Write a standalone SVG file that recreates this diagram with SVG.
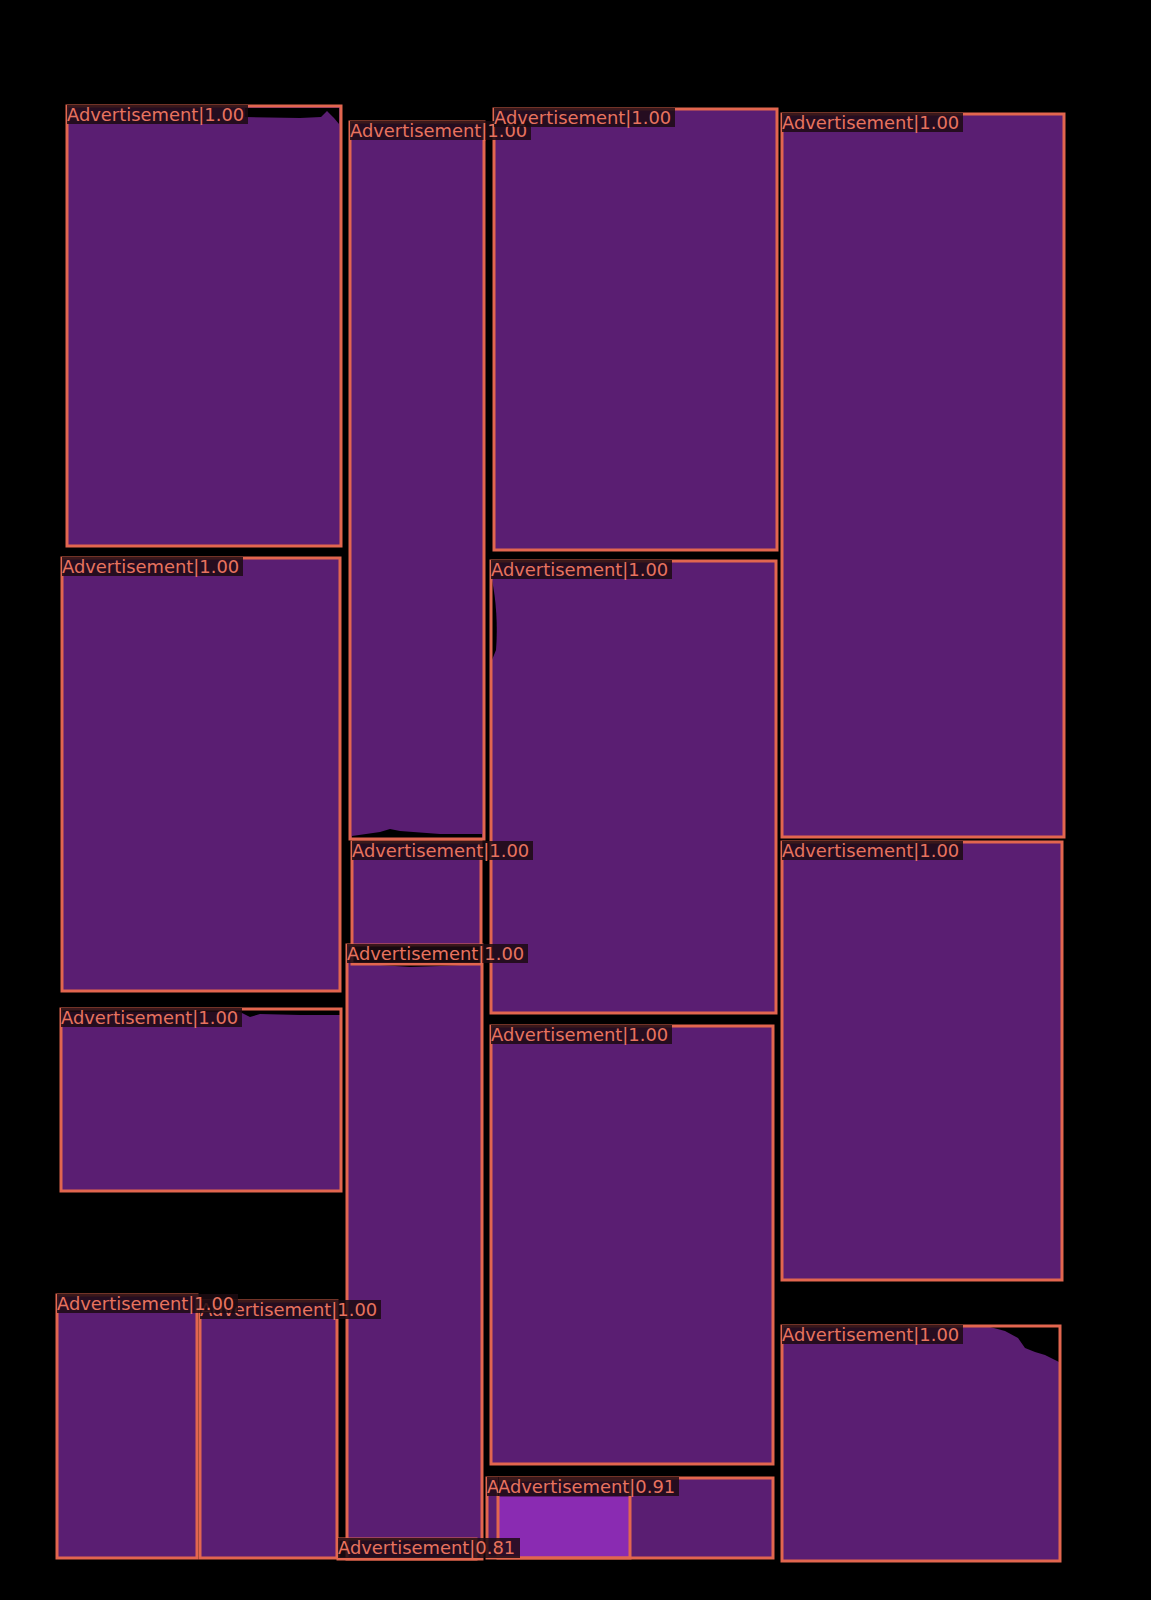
<svg xmlns="http://www.w3.org/2000/svg" width="1151" height="1600" viewBox="0 0 1151 1600">
<style>
.m{fill:#5a1e72}
.m2{fill:#8a2bb2}
.b{fill:none;stroke:#e2664f;stroke-width:3}
.lb{fill:#1c0a12;fill-opacity:0.85}
.t{font-family:"DejaVu Sans",sans-serif;font-size:17.9px;fill:#e8735f}
.k{fill:#000}
</style>
<rect width="1151" height="1600" fill="#000"/>
<g id="masks">
<rect class="m" x="68" y="107" width="272" height="438"/>
<rect class="m" x="351" y="123" width="132" height="715"/>
<rect class="m" x="495" y="110" width="281" height="439"/>
<rect class="m" x="783" y="115" width="280" height="721"/>
<rect class="m" x="63" y="559" width="276" height="431"/>
<rect class="m" x="353" y="843" width="127" height="120"/>
<rect class="m" x="348" y="946" width="133" height="612"/>
<rect class="m" x="492" y="562" width="283" height="450"/>
<rect class="m" x="492" y="1027" width="280" height="436"/>
<rect class="m" x="488" y="1479" width="284" height="78"/>
<rect class="m2" x="499" y="1497" width="131" height="60"/>
<rect class="m" x="62" y="1010" width="278" height="180"/>
<rect class="m" x="58" y="1296" width="138" height="261"/>
<rect class="m" x="201" y="1302" width="135" height="256"/>
<rect class="m" x="783" y="843" width="278" height="436"/>
<rect class="m" x="783" y="1327" width="276" height="233"/>
<path class="k" d="M245,108 L339,108 L339,124 L334,118 L327,111 L321,117 L300,118 L245,117 Z"/>
<path class="k" d="M352,838 L482,838 L482,834 L440,834 L400,831 L390,829 L380,832 L352,836 Z"/>
<path class="k" d="M352,946 L480,946 L480,964 L440,966 L410,967 L380,965 L352,962 Z"/>
<path class="k" d="M492,580 C496,600 498,625 496,650 L492,660 Z"/>
<path class="k" d="M990,1327 L1059,1327 L1059,1362 L1045,1355 L1035,1352 L1025,1348 L1018,1338 L1005,1331 Z"/>
<path class="k" d="M62,1010 L340,1010 L340,1015 L300,1015 L260,1014 L250,1017 L240,1012 L62,1012 Z"/>
</g>
<g id="connectors"></g>
<g id="node-A"><rect class="b" x="67" y="106" width="274" height="440"/></g>
<g id="node-B"><rect class="b" x="350" y="122" width="134" height="717"/></g>
<g id="node-C"><rect class="b" x="494" y="109" width="283" height="441"/></g>
<g id="node-D"><rect class="b" x="782" y="114" width="282" height="723"/></g>
<g id="node-E"><rect class="b" x="62" y="558" width="278" height="433"/></g>
<g id="node-F"><rect class="b" x="352" y="842" width="129" height="122"/></g>
<g id="node-G"><rect class="b" x="347" y="945" width="135" height="614"/></g>
<g id="node-H"><rect class="b" x="338" y="1539" width="138" height="20"/></g>
<g id="node-I"><rect class="b" x="491" y="561" width="285" height="452"/></g>
<g id="node-J"><rect class="b" x="491" y="1026" width="282" height="438"/></g>
<g id="node-K1"><rect class="b" x="487" y="1478" width="286" height="80"/></g>
<g id="node-K2"><rect class="b" x="498" y="1480" width="132" height="78"/></g>
<g id="node-L"><rect class="b" x="61" y="1009" width="280" height="182"/></g>
<g id="node-M"><rect class="b" x="57" y="1295" width="140" height="263"/></g>
<g id="node-N"><rect class="b" x="200" y="1301" width="137" height="257"/></g>
<g id="node-O"><rect class="b" x="782" y="842" width="280" height="438"/></g>
<g id="node-P"><rect class="b" x="782" y="1326" width="278" height="235"/></g>
<g id="labels">
<rect class="lb" x="67" y="105" width="181" height="19"/><text class="t" x="67" y="121">Advertisement|1.00</text>
<rect class="lb" x="350" y="121" width="181" height="19"/><text class="t" x="350" y="137">Advertisement|1.00</text>
<rect class="lb" x="494" y="108" width="181" height="19"/><text class="t" x="494" y="124">Advertisement|1.00</text>
<rect class="lb" x="782" y="113" width="181" height="19"/><text class="t" x="782" y="129">Advertisement|1.00</text>
<rect class="lb" x="62" y="557" width="181" height="19"/><text class="t" x="62" y="573">Advertisement|1.00</text>
<rect class="lb" x="352" y="841" width="181" height="19"/><text class="t" x="352" y="857">Advertisement|1.00</text>
<rect class="lb" x="347" y="944" width="181" height="19"/><text class="t" x="347" y="960">Advertisement|1.00</text>
<rect class="lb" x="491" y="560" width="181" height="19"/><text class="t" x="491" y="576">Advertisement|1.00</text>
<rect class="lb" x="491" y="1025" width="181" height="19"/><text class="t" x="491" y="1041">Advertisement|1.00</text>
<rect class="lb" x="61" y="1008" width="181" height="19"/><text class="t" x="61" y="1024">Advertisement|1.00</text>
<rect class="lb" x="200" y="1300" width="181" height="19"/><text class="t" x="200" y="1316">Advertisement|1.00</text>
<rect class="lb" x="57" y="1294" width="181" height="19"/><text class="t" x="57" y="1310">Advertisement|1.00</text>
<rect class="lb" x="782" y="841" width="181" height="19"/><text class="t" x="782" y="857">Advertisement|1.00</text>
<rect class="lb" x="782" y="1325" width="181" height="19"/><text class="t" x="782" y="1341">Advertisement|1.00</text>
<rect class="lb" x="338" y="1538" width="182" height="20"/><text class="t" x="338" y="1554">Advertisement|0.81</text>
<rect class="lb" x="487" y="1477" width="12" height="19"/><text class="t" x="487" y="1493">A</text>
<rect class="lb" x="498" y="1477" width="181" height="19"/><text class="t" x="498" y="1493">Advertisement|0.91</text>
</g>
</svg>
